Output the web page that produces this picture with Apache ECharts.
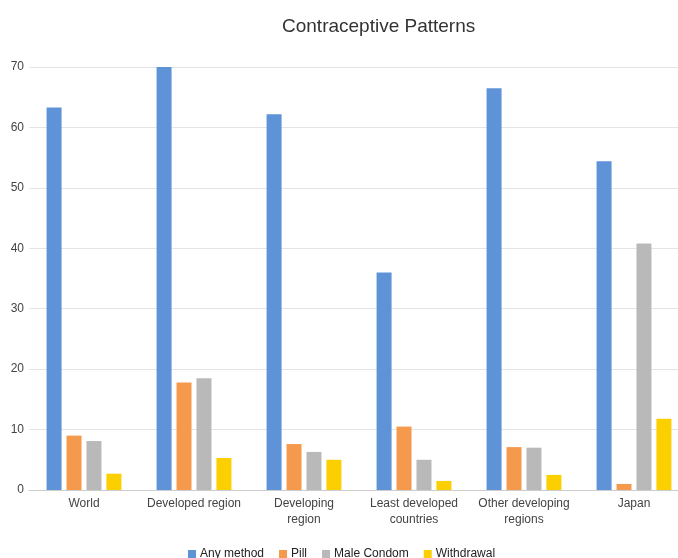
<!DOCTYPE html>
<html>
<head>
<meta charset="utf-8">
<script src="https://cdn.jsdelivr.net/npm/echarts@6/dist/echarts.min.js"></script>
<style>
  html, body { margin: 0; padding: 0; background: #ffffff; }
  #chart { width: 678px; height: 558px; }
</style>
</head>
<body>
<div id="chart"></div>
<script>
// Regions compared
const categories = ['World', 'Developed region', 'Developing\nregion', 'Least developed\ncountries', 'Other developing\nregions', 'Japan'];

// Prevalence (%) by method
const anyMethod   = [63.3, 70.2, 62.2, 36.0, 66.5, 54.4];
const pill        = [9.0, 17.8, 7.6, 10.5, 7.1, 1.0];
const maleCondom  = [8.1, 18.5, 6.3, 5.0, 7.0, 40.8];
const withdrawal  = [2.7, 5.3, 5.0, 1.5, 2.5, 11.8];

const seriesNames = ['Any method', 'Pill', 'Male Condom', 'Withdrawal'];
const seriesColors = ['#5f93d7', '#f59a4c', '#b9b9b9', '#fbcf00'];
const seriesData = [anyMethod, pill, maleCondom, withdrawal];

const font = 'Liberation Sans, Arial, sans-serif';

const chart = echarts.init(document.getElementById('chart'), null, { renderer: 'canvas' });
chart.setOption({
  backgroundColor: '#ffffff',
  animation: false,
  title: {
    text: 'Contraceptive Patterns',
    left: 277,
    top: 12,
    textStyle: { fontFamily: font, fontSize: 19, fontWeight: 'normal', color: '#333333' }
  },
  legend: {
    data: seriesNames,
    left: 183,
    top: 543,
    itemWidth: 8,
    itemHeight: 8,
    itemGap: 15,
    icon: 'rect',
    textStyle: { fontFamily: font, fontSize: 12, color: '#222222', padding: [0, 0, 0, -1] }
  },
  grid: { left: 29, top: 67, width: 660, height: 423, containLabel: false, outerBoundsMode: 'none' },
  xAxis: {
    type: 'category',
    data: categories,
    axisLine: { lineStyle: { color: '#cccccc', width: 1 } },
    axisTick: { show: false },
    axisLabel: {
      fontFamily: font, fontSize: 12, color: '#444444', margin: 6,
      lineHeight: 16, interval: 0, align: 'center'
    }
  },
  yAxis: {
    type: 'value',
    min: 0,
    max: 70,
    interval: 10,
    axisLine: { show: false },
    axisTick: { show: false },
    axisLabel: { fontFamily: font, fontSize: 12, color: '#444444', margin: 5 },
    splitLine: { lineStyle: { color: '#e4e4e4', width: 1 } }
  },
  series: seriesNames.map(function (name, i) {
    return {
      name: name,
      type: 'bar',
      data: seriesData[i],
      barWidth: 15,
      barGap: '33%',
      itemStyle: { color: seriesColors[i] }
    };
  })
});
</script>
</body>
</html>
